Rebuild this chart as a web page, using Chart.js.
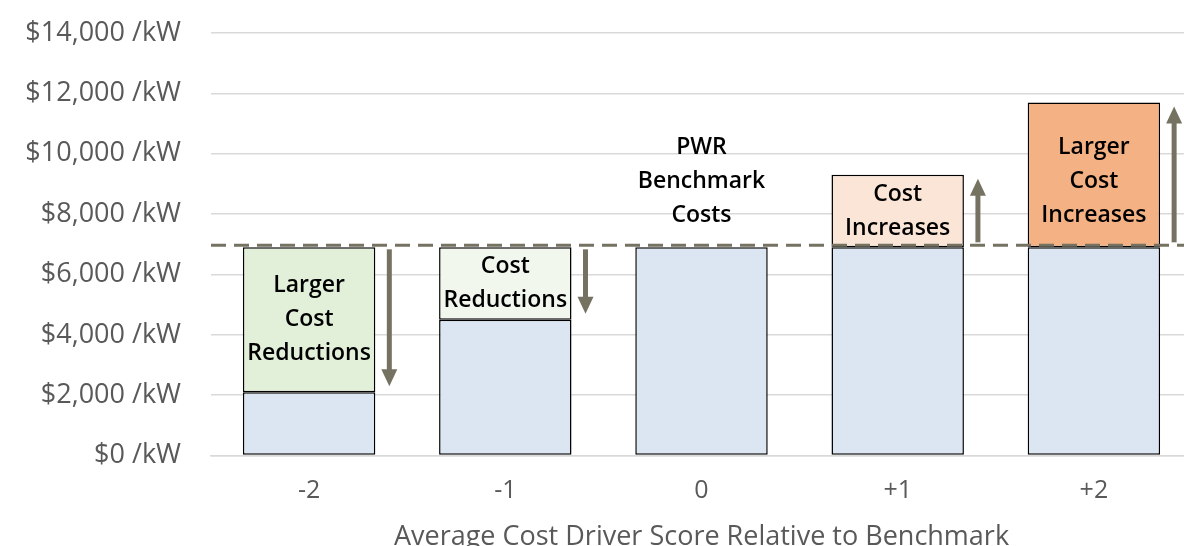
<!DOCTYPE html>
<html>
<head>
<meta charset="utf-8">
<script src="https://cdn.jsdelivr.net/npm/chart.js@4.4.1/dist/chart.umd.min.js"></script>
<style>
  html, body { margin: 0; padding: 0; background: #fff; overflow: hidden; }
  #wrap { position: relative; width: 1184px; height: 546px; overflow: hidden; }
  canvas { position: absolute; left: 0; top: 0; }
</style>
</head>
<body>
<div id="wrap"><canvas id="costChart" width="1192" height="554"></canvas></div>
<script>
// score buckets along the x axis
const categories = ['-2', '-1', '0', '+1', '+2'];
// lower (blue) part of each bar, $/kW
const baseCost = [2100, 4500, 6900, 6900, 6900];
// upper part: reduction (first two) or increase (last two), $/kW
const changeCost = [4800, 2400, 0, 2400, 4800];
const changeColors = ['#e2efd9', '#f2f7ee', '#ffffff', '#fbe5d6', '#f4b183'];
const benchmarkCost = 6900;
// text shown inside / above each bar
const barNotes = [
  ['Larger', 'Cost', 'Reductions'],
  ['Cost', 'Reductions'],
  ['PWR', 'Benchmark', 'Costs'],
  ['Cost', 'Increases'],
  ['Larger', 'Cost', 'Increases']
];
// arrow direction: -1 = down (reduction), 1 = up (increase), 0 = none
const arrowDir = [-1, -1, 0, 1, 1];
const yTicks = [0, 2000, 4000, 6000, 8000, 10000, 12000, 14000];

const FONT = '"Open Sans", Lato, sans-serif';
const ARROW = '#767262';

// dashed benchmark line, arrows and the bar notes
const notesPlugin = {
  id: 'notes',
  afterDatasetsDraw(chart) {
    const ctx = chart.ctx;
    const y = chart.scales.y;
    const area = chart.chartArea;
    const baseMeta = chart.getDatasetMeta(0);
    const topMeta = chart.getDatasetMeta(1);
    const yBench = y.getPixelForValue(benchmarkCost) - 2;

    ctx.save();
    // benchmark line
    ctx.strokeStyle = ARROW;
    ctx.lineWidth = 3;
    ctx.setLineDash([15, 8]);
    ctx.beginPath();
    ctx.moveTo(area.left, yBench);
    ctx.lineTo(chart.width, yBench);
    ctx.stroke();
    ctx.setLineDash([]);

    categories.forEach((c, i) => {
      const bar = baseMeta.data[i];
      const right = bar.x + bar.width / 2;
      const yEnd = y.getPixelForValue(benchmarkCost + arrowDir[i] * changeCost[i]);

      // arrow
      if (arrowDir[i] !== 0) {
        const ax = right + 14;
        const y0 = yBench + (arrowDir[i] < 0 ? 4 : -3);
        const y1 = yEnd + (arrowDir[i] < 0 ? -6 : 4);
        const head = 17 * (arrowDir[i] < 0 ? 1 : -1);
        ctx.fillStyle = ARROW;
        ctx.strokeStyle = ARROW;
        ctx.lineWidth = 5;
        ctx.beginPath();
        ctx.moveTo(ax, y0);
        ctx.lineTo(ax, y1 - head + (head > 0 ? 2 : -2));
        ctx.stroke();
        ctx.beginPath();
        ctx.moveTo(ax - 8, y1 - head);
        ctx.lineTo(ax + 8, y1 - head);
        ctx.lineTo(ax, y1);
        ctx.closePath();
        ctx.fill();
      }

      // notes
      const lines = barNotes[i];
      const lh = 34;
      let mid;
      if (changeCost[i] === 0) {
        mid = y.getPixelForValue(baseCost[i]) - 32 - (lines.length - 1) * lh / 2;
      } else {
        const top = topMeta.data[i];
        mid = (top.y + top.base) / 2;
        if (lines.length === 3 && arrowDir[i] > 0) mid += 7;
      }
      ctx.fillStyle = '#000';
      ctx.font = '600 23px ' + FONT;
      ctx.textAlign = 'center';
      ctx.textBaseline = 'middle';
      lines.forEach((t, k) => {
        ctx.fillText(t, bar.x, mid + (k - (lines.length - 1) / 2) * lh);
      });
    });
    ctx.restore();
  }
};

new Chart(document.getElementById('costChart'), {
  type: 'bar',
  data: {
    labels: categories,
    datasets: [
      {
        label: 'Benchmark',
        data: baseCost,
        backgroundColor: '#dce6f2',
        borderColor: '#000',
        borderWidth: 1.5,
        borderSkipped: false,
        barPercentage: 0.675,
        categoryPercentage: 1
      },
      {
        label: 'Change',
        data: changeCost,
        backgroundColor: changeColors,
        borderColor: '#000',
        borderWidth: changeCost.map(v => (v === 0 ? 0 : 1.5)),
        borderSkipped: false,
        barPercentage: 0.675,
        categoryPercentage: 1
      }
    ]
  },
  options: {
    responsive: false,
    animation: false,
    layout: { padding: { top: 33, right: 0, left: 0, bottom: 0 } },
    plugins: {
      legend: { display: false },
      tooltip: { enabled: false }
    },
    scales: {
      x: {
        stacked: true,
        grid: { display: false, drawTicks: false },
        border: { color: '#d9d9d9', width: 1.5 },
        ticks: { color: '#595959', font: { family: FONT, size: 25 }, padding: 20 },
        title: {
          display: true,
          text: 'Average Cost Driver Score Relative to Benchmark',
          color: '#595959',
          font: { family: FONT, size: 27 },
          padding: { top: -4, bottom: 0 }
        }
      },
      y: {
        stacked: true,
        min: 0,
        max: 14000,
        afterBuildTicks: (axis) => { axis.ticks = yTicks.map(v => ({ value: v })); },
        afterFit: (axis) => {
          axis.width = 211;
          axis.paddingTop = 0;
          axis.paddingBottom = 0;
        },
        grid: { color: '#d9d9d9', lineWidth: 1.5, drawTicks: false },
        border: { display: false },
        ticks: {
          color: '#595959',
          font: { family: FONT, size: 27 },
          padding: 30,
          callback: (v) => '$' + Number(v).toLocaleString('en-US') + ' /kW'
        }
      }
    }
  },
  plugins: [notesPlugin]
});
</script>
</body>
</html>
